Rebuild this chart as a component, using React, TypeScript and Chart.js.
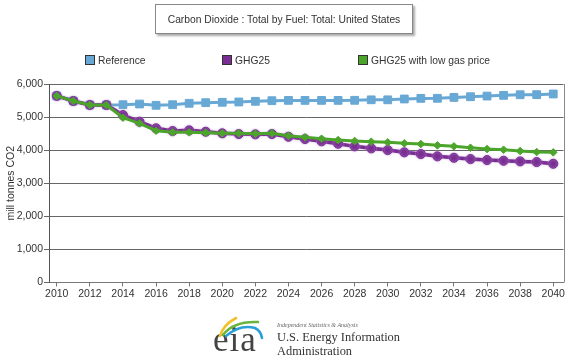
import React, { useEffect, useRef } from 'react';
import { Chart, registerables } from 'chart.js';

Chart.register(...registerables);

const years = [
  2010, 2011, 2012, 2013, 2014, 2015, 2016, 2017, 2018, 2019, 2020,
  2021, 2022, 2023, 2024, 2025, 2026, 2027, 2028, 2029, 2030,
  2031, 2032, 2033, 2034, 2035, 2036, 2037, 2038, 2039, 2040,
];

const referenceValues = [
  5640, 5486, 5365, 5365, 5374, 5395, 5356, 5374, 5417, 5435, 5447,
  5456, 5477, 5495, 5505, 5505, 5505, 5505, 5507, 5522, 5522,
  5547, 5565, 5568, 5595, 5615, 5635, 5657, 5675, 5677, 5698,
];

const ghg25Values = [
  5640, 5486, 5365, 5365, 5062, 4860, 4660, 4578, 4600, 4557, 4509,
  4487, 4478, 4487, 4406, 4336, 4267, 4194, 4115, 4055, 4003,
  3934, 3882, 3813, 3770, 3731, 3701, 3680, 3661, 3640, 3589,
];

const ghg25LowGasValues = [
  5640, 5486, 5365, 5365, 4981, 4811, 4588, 4539, 4539, 4527, 4509,
  4509, 4497, 4509, 4436, 4388, 4345, 4305, 4276, 4255, 4236,
  4206, 4185, 4146, 4115, 4073, 4034, 4013, 3973, 3943, 3934,
];

const seriesNames = ['Reference', 'GHG25', 'GHG25 with low gas price'];
const seriesColors = ['#68a8d5', '#7a2e94', '#4ca52b'];
const chartTitle = 'Carbon Dioxide : Total by Fuel: Total: United States';
const yAxisTitle = 'mill tonnes CO2';
const yMin = 0;
const yMax = 6000;
const yStep = 1000;
const xStep = 2;

const SANS = '"Liberation Sans", Arial, sans-serif';
const SERIF = '"Liberation Serif", "Times New Roman", serif';

const plotBorder = {
  id: 'plotBorder',
  beforeDatasetDraw(chart: any, args: any) {
    if (args.index === 1) {
      const ctx = chart.ctx;
      ctx.save();
      ctx.shadowColor = 'rgba(190,150,210,0.9)';
      ctx.shadowBlur = 2;
    }
  },
  afterDatasetDraw(chart: any, args: any) {
    if (args.index === 1) {
      chart.ctx.restore();
    }
  },
  afterDraw(chart: any) {
    const { ctx, chartArea } = chart;
    ctx.save();
    ctx.strokeStyle = '#888';
    ctx.lineWidth = 1;
    ctx.beginPath();
    const x = Math.round(chartArea.right) + 0.5;
    ctx.moveTo(x, chartArea.top);
    ctx.lineTo(x, chartArea.bottom);
    ctx.stroke();
    ctx.restore();
  },
};

export default function App() {
  const canvasRef = useRef<HTMLCanvasElement | null>(null);

  useEffect(() => {
    const canvas = canvasRef.current;
    if (!canvas) return;
    const series = [referenceValues, ghg25Values, ghg25LowGasValues];
    const styles = [
      { pointStyle: 'rect', pointRadius: 5.5, borderWidth: 3, order: 3 },
      { pointStyle: 'circle', pointRadius: 4.5, borderWidth: 3.5, order: 2 },
      { pointStyle: 'rectRot', pointRadius: 3.8, borderWidth: 3, order: 1 },
    ];
    const chart = new Chart(canvas, {
      type: 'line',
      data: {
        datasets: series.map((vals, i) => ({
          label: seriesNames[i],
          data: years.map((x, j) => ({ x, y: vals[j] })),
          borderColor: seriesColors[i],
          backgroundColor: seriesColors[i],
          pointBackgroundColor: seriesColors[i],
          pointBorderColor: seriesColors[i],
          pointBorderWidth: 1,
          borderWidth: styles[i].borderWidth,
          pointStyle: styles[i].pointStyle as any,
          pointRadius: styles[i].pointRadius,
          order: styles[i].order,
          tension: 0,
          fill: false,
        })),
      },
      options: {
        animation: false,
        responsive: false,
        maintainAspectRatio: false,
        layout: { padding: { top: 84, right: 5, bottom: 51.5, left: 0 } },
        plugins: {
          legend: { display: false },
          tooltip: { enabled: false },
          title: { display: false },
        },
        scales: {
          x: {
            type: 'linear',
            min: 2009.53,
            max: 2040.62,
            ticks: {
              stepSize: xStep,
              includeBounds: false,
              autoSkip: false,
              maxRotation: 0,
              padding: 1,
              color: '#333',
              font: { family: SANS, size: 10.5 },
              callback: (v: any) => String(v),
            },
            grid: { drawOnChartArea: false, drawTicks: true, tickLength: 4, color: '#777' },
            border: { color: '#777' },
            afterFit: (s: any) => {
              s.height = 22;
            },
          },
          y: {
            min: yMin,
            max: yMax,
            ticks: {
              stepSize: yStep,
              padding: 1,
              color: '#333',
              font: { family: SANS, size: 10.5 },
              callback: (v: any) => Number(v).toLocaleString('en-US'),
            },
            grid: { color: '#666', tickLength: 5 },
            border: { color: '#555' },
            title: {
              display: true,
              text: yAxisTitle,
              color: '#333',
              font: { family: SANS, size: 10.5 },
              padding: { top: 5, bottom: 0 },
            },
            afterFit: (s: any) => {
              s.width = 49;
            },
          },
        },
      },
      plugins: [plotBorder],
    } as any);
    return () => chart.destroy();
  }, []);

  const legendX = [85, 222, 358];

  return (
    <div style={{ position: 'fixed', left: 0, top: 0, width: 570, height: 356, background: '#fff', overflow: 'hidden' }}>
      <canvas ref={canvasRef} width={570} height={356} style={{ position: 'absolute', left: 0, top: 0, width: 570, height: 356 }} />
      <div
        style={{
          position: 'absolute',
          left: 155,
          top: 4,
          width: 256,
          height: 28,
          border: '1px solid #888',
          boxShadow: '2px 2px 2px #aaa',
          background: '#fff',
          fontFamily: SANS,
          fontSize: 10.3,
          color: '#333',
          display: 'flex',
          alignItems: 'center',
          justifyContent: 'center',
          whiteSpace: 'nowrap',
        }}
      >
        {chartTitle}
      </div>
      {seriesNames.map((name, i) => (
        <div
          key={name}
          style={{
            position: 'absolute',
            left: legendX[i],
            top: 53,
            height: 14,
            display: 'flex',
            alignItems: 'center',
            fontFamily: SANS,
            fontSize: 10.3,
            color: '#333',
            whiteSpace: 'nowrap',
          }}
        >
          <span
            style={{
              display: 'inline-block',
              width: 8,
              height: 8,
              border: '1px solid #333',
              background: seriesColors[i],
              marginRight: 3,
            }}
          />
          {name}
        </div>
      ))}
      <div
        style={{
          position: 'absolute',
          left: 213,
          top: 320,
          fontFamily: SERIF,
          fontSize: 35,
          lineHeight: '40px',
          color: '#444',
          letterSpacing: 1,
        }}
      >
        eia
      </div>
      <svg width={70} height={40} style={{ position: 'absolute', left: 205, top: 313 }} viewBox="0 0 70 40">
        <path d="M 15 23 Q 18 12 31 5" stroke="#f2c12e" strokeWidth={2.6} fill="none" strokeLinecap="round" />
        <path d="M 18 22 Q 28 8 53 9" stroke="#6ab43e" strokeWidth={2.6} fill="none" strokeLinecap="round" />
        <path d="M 21 23 Q 35 11 50 15 Q 56 18 57 25" stroke="#2a9fd8" strokeWidth={2.6} fill="none" strokeLinecap="round" />
      </svg>
      <div
        style={{
          position: 'absolute',
          left: 277,
          top: 322,
          fontFamily: SERIF,
          fontStyle: 'italic',
          fontSize: 6,
          color: '#666',
          whiteSpace: 'nowrap',
        }}
      >
        Independent Statistics &amp; Analysis
      </div>
      <div
        style={{
          position: 'absolute',
          left: 277,
          top: 330,
          fontFamily: SERIF,
          fontSize: 12.4,
          lineHeight: '14px',
          color: '#333',
          whiteSpace: 'nowrap',
        }}
      >
        U.S. Energy Information
        <br />
        Administration
      </div>
    </div>
  );
}
